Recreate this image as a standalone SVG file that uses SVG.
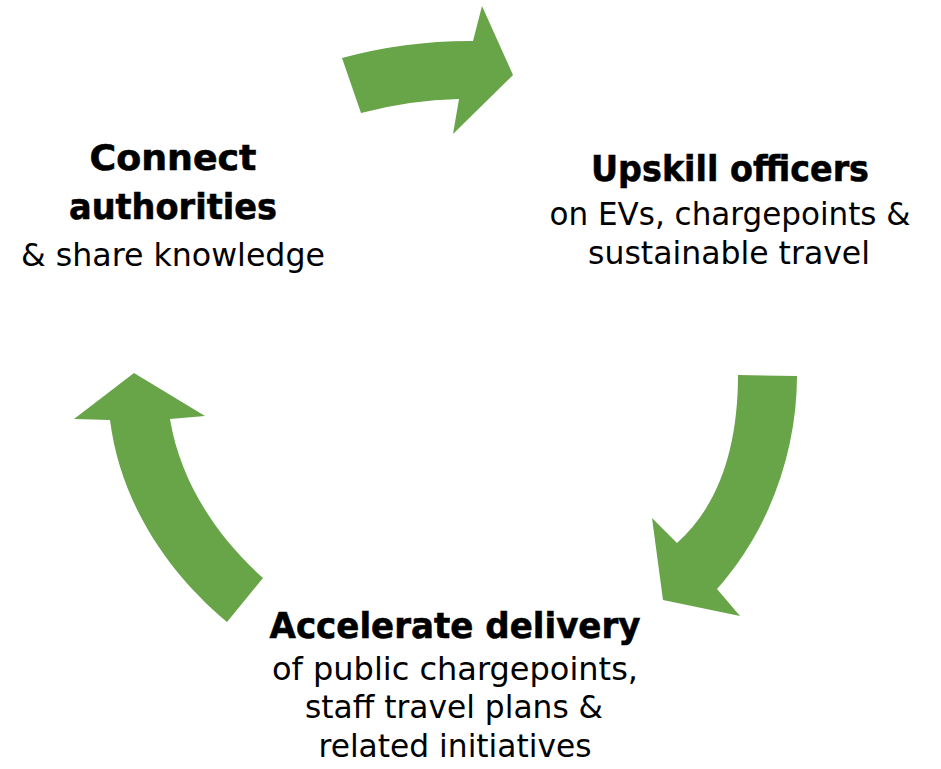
<svg xmlns="http://www.w3.org/2000/svg" width="941" height="769" viewBox="0 0 941 769">
  <style>
    .arrow { fill: #68A448; stroke: none; }
    text { font-family: "DejaVu Sans", "Liberation Sans", sans-serif; fill: #000; text-anchor: middle; }
    .title { font-weight: bold; font-size: 36px; stroke: #000; stroke-width: 0.6px; }
    .body { font-size: 32.5px; }
  </style>
  <rect width="941" height="769" fill="#ffffff"/>
  <g id="connectors">
    <path class="arrow" d="M342,58 Q406.5,40.5 473,41 L482,6 L513,75 L453,134 L459,99 Q410,100 361,113 Z"/>
    <path class="arrow" d="M738,375 L797,376 C797,450 770,530 717,589 L740,616 L663,600 L652,518 L677,543 C720,505 738,445 738,375 Z"/>
    <path class="arrow" d="M134,373 L205,416 L170,419 C180,480 215,535 263,578 L227,622 C165,570 120,500 110,420 L74,419 Z"/>
  </g>
  <g id="node-connect">
    <text class="title" x="173" y="170" textLength="167" lengthAdjust="spacingAndGlyphs">Connect</text>
    <text class="title" x="173" y="219" textLength="208" lengthAdjust="spacingAndGlyphs">authorities</text>
    <text class="body" x="173" y="266" textLength="304" lengthAdjust="spacingAndGlyphs">&amp; share knowledge</text>
  </g>
  <g id="node-upskill">
    <text class="title" x="730" y="181" textLength="278" lengthAdjust="spacingAndGlyphs">Upskill officers</text>
    <text class="body" x="730" y="225" textLength="361" lengthAdjust="spacingAndGlyphs">on EVs, chargepoints &amp;</text>
    <text class="body" x="729" y="264" textLength="282" lengthAdjust="spacingAndGlyphs">sustainable travel</text>
  </g>
  <g id="node-accelerate">
    <text class="title" x="455" y="638" textLength="371" lengthAdjust="spacingAndGlyphs">Accelerate delivery</text>
    <text class="body" x="455" y="680" textLength="366" lengthAdjust="spacingAndGlyphs">of public chargepoints,</text>
    <text class="body" x="454" y="718" textLength="298" lengthAdjust="spacingAndGlyphs">staff travel plans &amp;</text>
    <text class="body" x="455" y="757" textLength="273" lengthAdjust="spacingAndGlyphs">related initiatives</text>
  </g>
</svg>
